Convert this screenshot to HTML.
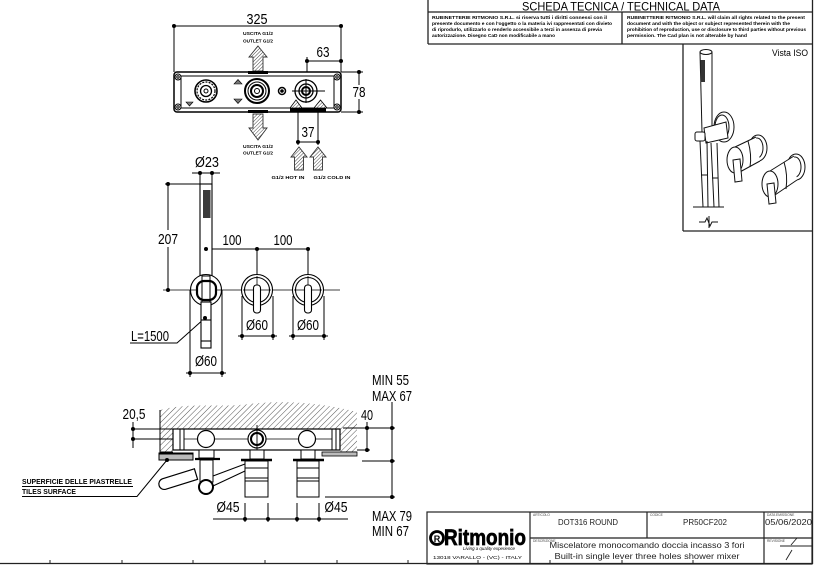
<!DOCTYPE html>
<html><head><meta charset="utf-8">
<style>
html,body{margin:0;padding:0;background:#fff;}
svg{display:block;}
text{font-family:"Liberation Sans",sans-serif;fill:#000;}
.d{font-size:15px;}
.t{font-size:4.8px;font-weight:bold;}
.s{font-size:8px;fill:#222;}
.l{font-size:3.3px;fill:#444;}
</style></head><body>
<svg width="816" height="566" viewBox="0 0 816 566" xmlns="http://www.w3.org/2000/svg">
<defs>
<pattern id="h" patternUnits="userSpaceOnUse" width="4" height="4" patternTransform="rotate(45)">
<line x1="0" y1="0" x2="0" y2="4" stroke="#555" stroke-width="1"/>
</pattern>
<pattern id="ha" patternUnits="userSpaceOnUse" width="2.5" height="2.5" patternTransform="rotate(45)">
<rect width="2.5" height="2.5" fill="#fff"/>
<line x1="0" y1="0" x2="0" y2="2.5" stroke="#444" stroke-width="1"/>
</pattern>
</defs>

<!-- ============ HEADER ============ -->
<g stroke="#222" stroke-width="1.3" fill="none">
<line x1="428" y1="0" x2="428" y2="44"/>
<line x1="428" y1="12" x2="812" y2="12"/>
<line x1="428" y1="44" x2="812" y2="44"/>
<line x1="622" y1="12" x2="622" y2="44"/>
<line x1="812.5" y1="0" x2="812.5" y2="564"/>
<line x1="683" y1="44" x2="683" y2="231"/>
<line x1="683" y1="231" x2="812" y2="231"/>
<line x1="0" y1="563.5" x2="812" y2="563.5"/>
</g>
<g stroke="#222" stroke-width="1">
<line x1="50" y1="560" x2="50" y2="564"/><line x1="122" y1="560" x2="122" y2="564"/>
<line x1="193" y1="560" x2="193" y2="564"/><line x1="265" y1="560" x2="265" y2="564"/>
<line x1="337" y1="560" x2="337" y2="564"/><line x1="408" y1="560" x2="408" y2="564"/>
<line x1="478" y1="560" x2="478" y2="564"/><line x1="550" y1="560" x2="550" y2="564"/>
<line x1="622" y1="560" x2="622" y2="564"/><line x1="693" y1="560" x2="693" y2="564"/>
</g>
<text x="621" y="10.5" font-size="12" text-anchor="middle" textLength="198" lengthAdjust="spacingAndGlyphs">SCHEDA TECNICA / TECHNICAL DATA</text>
<text class="t" x="432" y="19" textLength="175" lengthAdjust="spacingAndGlyphs">RUBINETTERIE RITMONIO S.R.L. si riserva tutti i diritti connessi con il</text>
<text class="t" x="432" y="25" textLength="180" lengthAdjust="spacingAndGlyphs">presente documento e con l'oggetto o la materia ivi rappresentati con divieto</text>
<text class="t" x="432" y="31" textLength="170" lengthAdjust="spacingAndGlyphs">di riprodurlo, utilizzarlo o renderlo accessibile a terzi in assenza di previa</text>
<text class="t" x="432" y="37" textLength="123" lengthAdjust="spacingAndGlyphs">autorizzazione. Disegno CaD non modificabile a mano</text>
<text class="t" x="627" y="19" textLength="178" lengthAdjust="spacingAndGlyphs">RUBINETTERIE RITMONIO S.R.L. will claim all rights related to the present</text>
<text class="t" x="627" y="25" textLength="163" lengthAdjust="spacingAndGlyphs">document and with the object or subject represented therein with the</text>
<text class="t" x="627" y="31" textLength="179" lengthAdjust="spacingAndGlyphs">prohibition  of reproduction, use or disclosure to third parties without previous</text>
<text class="t" x="627" y="37" textLength="120" lengthAdjust="spacingAndGlyphs">permission.  The Cad plan is not alterable by hand</text>

<!-- ============ ISO VIEW ============ -->
<text x="808" y="56" font-size="9" text-anchor="end" textLength="36" lengthAdjust="spacingAndGlyphs">Vista ISO</text>
<g stroke="#111" stroke-width="1" fill="#fff">
<line x1="700" y1="52" x2="702" y2="132"/>
<line x1="712" y1="52" x2="712" y2="132"/>
<ellipse cx="706" cy="52" rx="6" ry="2.5"/>
<rect x="700.5" y="60" width="4.5" height="22" fill="#333" stroke="none"/>
<ellipse cx="724" cy="127" rx="10" ry="15"/>
<ellipse cx="722" cy="127" rx="7" ry="12"/>
<path d="M704,128 L726,122 L728,138 L706,143 Z"/>
<rect x="695" y="132" width="10" height="9" rx="2"/>
<line x1="700" y1="141" x2="703" y2="207"/>
<line x1="707" y1="141" x2="708" y2="207"/>
<line x1="711" y1="143" x2="714" y2="207"/>
<line x1="717" y1="143" x2="719" y2="207"/>
<line x1="701" y1="175" x2="707" y2="175"/>
<line x1="712" y1="178" x2="718" y2="178"/>
<line x1="693" y1="207" x2="724" y2="207"/>
<path d="M699,222 L705,222 L707,218 L710,226 L712,222 L718,222" fill="none"/>
<line x1="709" y1="216" x2="709" y2="228"/>
<!-- mixer 1 -->
<ellipse cx="758" cy="148" rx="9" ry="13"/>
<ellipse cx="757" cy="148" rx="6" ry="10"/>
<path d="M735,147 L756,137 L760,161 L738,173 Z" stroke="none"/>
<line x1="735" y1="147" x2="756" y2="137"/>
<line x1="738" y1="173" x2="760" y2="161"/>
<path d="M748,141 Q752,155 750,167" fill="none"/>
<ellipse cx="735" cy="160" rx="8" ry="13"/>
<path d="M733,160 L740,159 L742,181 L735,182 Z"/>
<!-- mixer 2 -->
<ellipse cx="796" cy="167" rx="9" ry="13"/>
<ellipse cx="795" cy="167" rx="6" ry="10"/>
<path d="M770,171 L794,156 L797,180 L772,197 Z" stroke="none"/>
<line x1="770" y1="171" x2="794" y2="156"/>
<line x1="772" y1="197" x2="797" y2="180"/>
<path d="M784,162 Q788,175 786,189" fill="none"/>
<ellipse cx="770" cy="184" rx="8" ry="13"/>
<path d="M767,184 L774,183 L776,203 L769,204 Z"/>
</g>

<!-- ============ TOP PLAN VIEW ============ -->
<g stroke="#000" stroke-width="1" fill="none">
<line x1="174" y1="26" x2="341" y2="26"/>
<line x1="174" y1="26" x2="174" y2="72"/>
<line x1="341" y1="26" x2="341" y2="72"/>
<line x1="307" y1="61" x2="341" y2="61"/>
<line x1="307" y1="57" x2="307" y2="72"/>
<line x1="359" y1="72" x2="359" y2="85"/>
<line x1="359" y1="99" x2="359" y2="112"/>
<line x1="341" y1="72" x2="363" y2="72"/>
<line x1="341" y1="112" x2="363" y2="112"/>
<line x1="298" y1="112" x2="298" y2="145"/>
<line x1="318" y1="112" x2="318" y2="145"/>
<line x1="298" y1="142" x2="318" y2="142"/>
</g>
<g fill="#000">
<circle cx="174" cy="26" r="2"/><circle cx="341" cy="26" r="2"/>
<circle cx="307" cy="61" r="2"/><circle cx="341" cy="61" r="2"/>
<circle cx="359" cy="72" r="2"/><circle cx="359" cy="112" r="2"/>
<circle cx="298" cy="142" r="2"/><circle cx="318" cy="142" r="2"/>
</g>
<text class="d" x="257" y="24" text-anchor="middle" textLength="21" lengthAdjust="spacingAndGlyphs">325</text>
<text class="d" x="323" y="57" text-anchor="middle" textLength="13" lengthAdjust="spacingAndGlyphs">63</text>
<text class="d" x="359" y="97" text-anchor="middle" textLength="13" lengthAdjust="spacingAndGlyphs">78</text>
<text class="d" x="308" y="137" text-anchor="middle" textLength="13" lengthAdjust="spacingAndGlyphs">37</text>

<text class="t" x="258" y="35" text-anchor="middle" textLength="30" lengthAdjust="spacingAndGlyphs">USCITA G1/2</text>
<text class="t" x="258" y="42.5" text-anchor="middle" textLength="30" lengthAdjust="spacingAndGlyphs">OUTLET G1/2</text>
<text class="t" x="258" y="148" text-anchor="middle" textLength="30" lengthAdjust="spacingAndGlyphs">USCITA G1/2</text>
<text class="t" x="258" y="154.5" text-anchor="middle" textLength="30" lengthAdjust="spacingAndGlyphs">OUTLET G1/2</text>
<text class="t" x="288" y="179" text-anchor="middle" textLength="33" lengthAdjust="spacingAndGlyphs">G1/2 HOT IN</text>
<text class="t" x="332" y="179" text-anchor="middle" textLength="37" lengthAdjust="spacingAndGlyphs">G1/2 COLD IN</text>

<g stroke="#333" stroke-width="0.9" fill="url(#ha)">
<path d="M258,46 L267,57 L263,57 L263,71 L253,71 L253,57 L249,57 Z"/>
<path d="M253,114 L263,114 L263,128 L267,128 L258,140 L249,128 L253,128 Z"/>
<path d="M299,147 L307,157 L303.5,157 L303.5,170 L294.5,170 L294.5,157 L291,157 Z"/>
<path d="M318,147 L326,157 L322.5,157 L322.5,170 L313.5,170 L313.5,157 L310,157 Z"/>
</g>

<g stroke="#000" fill="none">
<rect x="174" y="72" width="167" height="40" rx="3" stroke-width="1.5" fill="#fff"/>
<rect x="181" y="76" width="153" height="32" stroke-width="1"/>
<g stroke-width="1">
<circle cx="178" cy="77" r="3"/><circle cx="337" cy="77" r="3"/>
<circle cx="178" cy="107" r="3"/><circle cx="337" cy="107" r="3"/>
<circle cx="178" cy="77" r="1.2"/><circle cx="337" cy="77" r="1.2"/>
<circle cx="178" cy="107" r="1.2"/><circle cx="337" cy="107" r="1.2"/>
</g>
<line x1="248" y1="72.5" x2="268" y2="72.5" stroke-width="3"/>
<line x1="248" y1="111.5" x2="268" y2="111.5" stroke-width="3"/>
<line x1="290" y1="110" x2="326" y2="110" stroke-width="3"/>
<circle cx="206" cy="91" r="11" stroke-width="1.6"/>
<circle cx="206" cy="91" r="9" stroke-width="1.2" stroke-dasharray="2 1.2"/>
<circle cx="206" cy="91" r="5.5" stroke-width="1.3"/>
<circle cx="206" cy="91" r="2" stroke-width="1"/>
<circle cx="257" cy="91" r="12" stroke-width="2"/>
<circle cx="257" cy="91" r="9" stroke-width="1"/>
<circle cx="257" cy="91" r="6" stroke-width="2"/>
<circle cx="257" cy="91" r="2.5" stroke-width="1"/>
<circle cx="282" cy="91" r="3.5" stroke-width="1.5"/>
<circle cx="282" cy="91" r="1.3" fill="#000"/>
<line x1="292" y1="91" x2="325" y2="91" stroke-width="1"/>
<line x1="306" y1="79" x2="306" y2="103" stroke-width="1"/>
<circle cx="306" cy="91" r="11" stroke-width="1.3"/>
<circle cx="306" cy="91" r="7" stroke-width="1.3"/>
<circle cx="306" cy="91" r="4" stroke-width="2"/>
</g>
<g fill="#777" stroke="#000" stroke-width="0.6">
<path d="M186,102 L193,102 L189.5,106 Z"/>
<path d="M234,84 L242,84 L238,79.5 Z"/>
<path d="M234,99 L242,99 L238,103.5 Z"/>
</g>
<g fill="url(#ha)" stroke="#000" stroke-width="0.8">
<path d="M290,108 L302,108 L296,100 Z"/>
<path d="M314,108 L327,108 L320.5,100 Z"/>
</g>

<!-- ============ FRONT VIEW ============ -->
<g stroke="#000" stroke-width="1" fill="none">
<line x1="192" y1="173" x2="220" y2="173"/>
<line x1="200" y1="173" x2="200" y2="184"/>
<line x1="212" y1="173" x2="212" y2="184"/>
<line x1="165" y1="184" x2="200" y2="184"/>
<line x1="168" y1="184" x2="168" y2="230"/>
<line x1="168" y1="247" x2="168" y2="290"/>
<line x1="163" y1="290" x2="340" y2="290" stroke-width="0.8"/>
<line x1="206" y1="249" x2="308" y2="249"/>
<line x1="257" y1="249" x2="257" y2="306"/>
<line x1="308" y1="249" x2="308" y2="306"/>
<line x1="190" y1="290" x2="190" y2="377"/>
<line x1="222" y1="290" x2="222" y2="377"/>
<line x1="186" y1="373" x2="226" y2="373"/>
<line x1="242" y1="296" x2="242" y2="340"/>
<line x1="273" y1="296" x2="273" y2="340"/>
<line x1="238" y1="336" x2="277" y2="336"/>
<line x1="293" y1="296" x2="293" y2="340"/>
<line x1="324" y1="296" x2="324" y2="340"/>
<line x1="289" y1="336" x2="328" y2="336"/>
<polyline points="205,318 177,343 130,343"/>
</g>
<g stroke="#000" fill="#fff" stroke-width="1.1">
<rect x="200" y="184" width="12" height="96"/>
<circle cx="257" cy="290" r="15.5"/>
<circle cx="257" cy="290" r="12.5"/>
<circle cx="308" cy="290" r="15.5"/>
<circle cx="308" cy="290" r="12.5"/>
<line x1="243" y1="290" x2="271" y2="290" stroke-width="0.8"/>
<line x1="294" y1="290" x2="322" y2="290" stroke-width="0.8"/>
<line x1="257" y1="276" x2="257" y2="286" stroke-width="0.8"/>
<line x1="308" y1="276" x2="308" y2="286" stroke-width="0.8"/>
<rect x="253.5" y="285" width="7" height="28" rx="3"/>
<rect x="304.5" y="285" width="7" height="28" rx="3"/>
<circle cx="206" cy="290" r="15.5"/>
<line x1="191" y1="290" x2="221" y2="290" stroke-width="0.8"/>
<rect x="197" y="281" width="19" height="19" rx="7" stroke-width="2.2"/>
<rect x="202" y="276" width="8" height="26" fill="none" stroke-width="1"/>
<rect x="201" y="302" width="10" height="46"/>
<line x1="201" y1="320" x2="211" y2="320"/>
<line x1="201" y1="341" x2="211" y2="341"/>
</g>
<rect x="203" y="190" width="7.5" height="28" fill="#3a3a3a"/>
<g fill="#000">
<circle cx="200" cy="173" r="2"/><circle cx="212" cy="173" r="2"/>
<circle cx="168" cy="184" r="2"/><circle cx="168" cy="290" r="2"/>
<circle cx="206" cy="249" r="2"/><circle cx="257" cy="249" r="2"/><circle cx="308" cy="249" r="2"/>
<circle cx="190" cy="373" r="2"/><circle cx="222" cy="373" r="2"/>
<circle cx="242" cy="336" r="2"/><circle cx="273" cy="336" r="2"/>
<circle cx="293" cy="336" r="2"/><circle cx="324" cy="336" r="2"/>
<circle cx="205" cy="318" r="2"/>
</g>
<text class="d" x="207" y="167" text-anchor="middle" textLength="24" lengthAdjust="spacingAndGlyphs">Ø23</text>
<text class="d" x="168" y="244" text-anchor="middle" textLength="20" lengthAdjust="spacingAndGlyphs">207</text>
<text class="d" x="232" y="245" text-anchor="middle" textLength="19" lengthAdjust="spacingAndGlyphs">100</text>
<text class="d" x="283" y="245" text-anchor="middle" textLength="19" lengthAdjust="spacingAndGlyphs">100</text>
<text class="d" x="257" y="330" text-anchor="middle" textLength="22" lengthAdjust="spacingAndGlyphs">Ø60</text>
<text class="d" x="308" y="330" text-anchor="middle" textLength="22" lengthAdjust="spacingAndGlyphs">Ø60</text>
<text class="d" x="206" y="366" text-anchor="middle" textLength="22" lengthAdjust="spacingAndGlyphs">Ø60</text>
<text class="d" x="131" y="341" textLength="38" lengthAdjust="spacingAndGlyphs">L=1500</text>

<!-- ============ SECTION VIEW ============ -->
<path d="M160,410 C190,402 220,408 250,404 S320,402 357,412 L357,452 L340,452 L340,429 L173,429 L173,452 L160,452 Z" fill="url(#h)" stroke="none"/>
<path d="M160,410 L160,452 L173,452 M340,452 L357,452" fill="none" stroke="#000" stroke-width="1"/>
<rect x="159" y="453" width="34" height="7" fill="#bbb" stroke="#000" stroke-width="1"/>
<line x1="159" y1="453.5" x2="193" y2="453.5" stroke="#000" stroke-width="2"/>
<rect x="322" y="452" width="35" height="4" fill="#bbb" stroke="#000" stroke-width="0.8"/>

<g stroke="#000" stroke-width="1" fill="none">
<line x1="133" y1="429" x2="173" y2="429"/>
<line x1="133" y1="439" x2="173" y2="439"/>
<line x1="133" y1="422" x2="133" y2="448"/>
</g>
<g stroke="#000" stroke-width="1.2" fill="#fff">
<rect x="173" y="429" width="167" height="21"/>
<line x1="180" y1="429" x2="180" y2="450" stroke-width="1"/>
<line x1="184" y1="429" x2="184" y2="450" stroke-width="1"/>
<line x1="332" y1="429" x2="332" y2="450" stroke-width="1"/>
<line x1="336" y1="429" x2="336" y2="450" stroke-width="1"/>
<line x1="184" y1="439" x2="332" y2="439" stroke-width="0.8"/>
<circle cx="206" cy="439" r="8.5"/>
<circle cx="307" cy="439" r="8.5"/>
<circle cx="257" cy="439" r="9"/>
<circle cx="257" cy="439" r="6" stroke-width="2"/>
<line x1="257" y1="425" x2="257" y2="456" stroke-width="0.9"/>
<rect x="199" y="450" width="15" height="8" stroke-width="1"/>
<line x1="195" y1="459" x2="220" y2="459" stroke-width="2.2"/>
<rect x="200" y="460" width="13" height="22" stroke-width="1"/>
<line x1="213" y1="476" x2="245" y2="464" stroke-width="1"/>
<line x1="213" y1="486" x2="245" y2="471" stroke-width="1"/>
<path d="M194.4,468.8 L162.4,478.8 A5.5,5.5 0 0 0 165.6,489.3 L197.6,479.3 Z" stroke-width="1.2"/>
<circle cx="206" cy="487" r="7" stroke-width="2"/>
<rect x="250" y="450" width="14" height="9" stroke-width="1"/>
<line x1="241" y1="460" x2="272" y2="460" stroke-width="2.5"/>
<rect x="245" y="461" width="23" height="36" stroke-width="1"/>
<line x1="245" y1="468" x2="268" y2="468" stroke-width="1"/>
<line x1="245" y1="478" x2="268" y2="478" stroke-width="1"/>
<line x1="245" y1="481" x2="268" y2="481" stroke-width="1"/>
<rect x="301" y="450" width="14" height="9" stroke-width="1"/>
<line x1="293" y1="460" x2="324" y2="460" stroke-width="2.5"/>
<rect x="297" y="461" width="22" height="36" stroke-width="1"/>
<line x1="297" y1="468" x2="319" y2="468" stroke-width="1"/>
<line x1="297" y1="478" x2="319" y2="478" stroke-width="1"/>
<line x1="297" y1="481" x2="319" y2="481" stroke-width="1"/>
</g>
<g stroke="#000" stroke-width="1" fill="none">
<line x1="245" y1="503" x2="245" y2="522"/>
<line x1="268" y1="503" x2="268" y2="522"/>
<line x1="297" y1="503" x2="297" y2="522"/>
<line x1="319" y1="503" x2="319" y2="522"/>
<line x1="213" y1="519" x2="348" y2="519"/>
<line x1="392" y1="402" x2="392" y2="498"/>
<line x1="343" y1="428" x2="395" y2="428"/>
<line x1="362" y1="461" x2="395" y2="461"/>
<line x1="325" y1="497" x2="395" y2="497"/>
<line x1="367" y1="422" x2="367" y2="452"/>
<line x1="357" y1="450" x2="370" y2="450"/>
<polyline points="22,486.5 133,486.5"/>
<polyline points="22,496.5 137,496.5 167,460"/>
</g>
<g fill="#000">
<circle cx="133" cy="429" r="2"/><circle cx="133" cy="439" r="2"/>
<circle cx="245" cy="519" r="2"/><circle cx="268" cy="519" r="2"/>
<circle cx="297" cy="519" r="2"/><circle cx="319" cy="519" r="2"/>
<circle cx="392" cy="428" r="2"/><circle cx="392" cy="461" r="2"/><circle cx="392" cy="497" r="2"/>
<circle cx="367" cy="428" r="2"/><circle cx="367" cy="450" r="2"/>
<circle cx="167" cy="460" r="2"/>
</g>
<text class="d" x="134" y="419" text-anchor="middle" textLength="23" lengthAdjust="spacingAndGlyphs">20,5</text>
<text class="d" x="367" y="420" text-anchor="middle" textLength="12" lengthAdjust="spacingAndGlyphs">40</text>
<text class="d" x="228" y="512" text-anchor="middle" textLength="23" lengthAdjust="spacingAndGlyphs">Ø45</text>
<text class="d" x="336" y="512" text-anchor="middle" textLength="23" lengthAdjust="spacingAndGlyphs">Ø45</text>
<text class="d" x="372" y="385" textLength="37" lengthAdjust="spacingAndGlyphs">MIN 55</text>
<text class="d" x="372" y="401" textLength="40" lengthAdjust="spacingAndGlyphs">MAX 67</text>
<text class="d" x="372" y="521" textLength="40" lengthAdjust="spacingAndGlyphs">MAX 79</text>
<text class="d" x="372" y="536" textLength="37" lengthAdjust="spacingAndGlyphs">MIN 67</text>
<text x="22" y="484" font-size="7.5" font-weight="bold" textLength="110" lengthAdjust="spacingAndGlyphs">SUPERFICIE DELLE PIASTRELLE</text>
<text x="22" y="494" font-size="7.5" font-weight="bold" textLength="54" lengthAdjust="spacingAndGlyphs">TILES SURFACE</text>

<!-- ============ TITLE BLOCK ============ -->
<g stroke="#222" stroke-width="1.2" fill="none">
<rect x="427" y="512" width="385" height="52"/>
<line x1="530" y1="512" x2="530" y2="564"/>
<line x1="764" y1="512" x2="764" y2="564"/>
<line x1="647" y1="512" x2="647" y2="538"/>
<line x1="530" y1="538" x2="812" y2="538"/>
<line x1="780" y1="546" x2="812" y2="546" stroke-width="0.9"/>
<line x1="791" y1="545" x2="797" y2="538" stroke-width="0.9"/>
<line x1="786" y1="560" x2="792" y2="550" stroke-width="0.9"/>
</g>
<text class="l" x="533" y="516">ARTICOLO</text>
<text class="l" x="650" y="516">CODICE</text>
<text class="l" x="767" y="516">DATA EMISSIONE</text>
<text class="l" x="533" y="542">DESCRIZIONE</text>
<text class="l" x="767" y="542">REVISIONE</text>
<text class="s" x="588" y="525" text-anchor="middle" textLength="60" lengthAdjust="spacingAndGlyphs">DOT316 ROUND</text>
<text class="s" x="705" y="525" text-anchor="middle" textLength="44" lengthAdjust="spacingAndGlyphs">PR50CF202</text>
<text class="s" x="765" y="525" textLength="47" lengthAdjust="spacingAndGlyphs">05/06/2020</text>
<text class="s" x="647" y="548" text-anchor="middle" textLength="195" lengthAdjust="spacingAndGlyphs">Miscelatore monocomando doccia incasso 3 fori</text>
<text class="s" x="647" y="559" text-anchor="middle" textLength="185" lengthAdjust="spacingAndGlyphs">Built-in single lever three holes shower mixer</text>
<circle cx="437" cy="538" r="6.5" fill="none" stroke="#000" stroke-width="2.8"/>
<text x="437" y="542" font-size="9" font-weight="bold" text-anchor="middle">R</text>
<text x="444" y="545" font-size="22" font-weight="bold" stroke="#000" stroke-width="0.7" textLength="82" lengthAdjust="spacingAndGlyphs">Ritmonio</text>
<text x="463" y="550" font-size="4.5" font-style="italic" textLength="52" lengthAdjust="spacingAndGlyphs">Living a quality experience</text>
<text x="433" y="559" font-size="4.3" textLength="89" lengthAdjust="spacingAndGlyphs" fill="#333">13018 VARALLO - (VC) - ITALY</text>
</svg>
</body></html>
